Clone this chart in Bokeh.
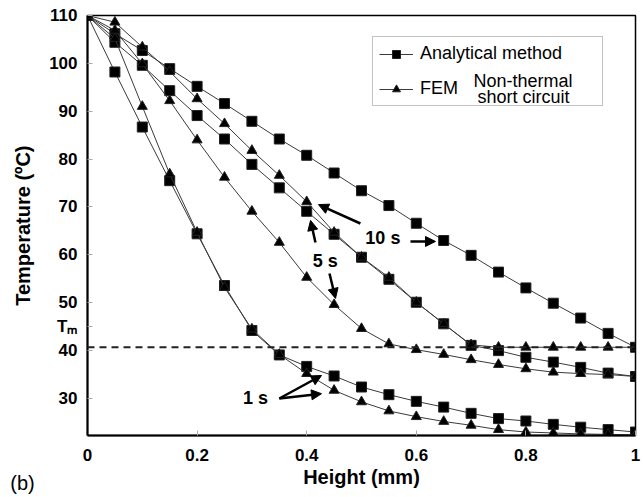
import math
from bokeh.plotting import figure
from bokeh.models import (Range1d, FixedTicker, Span, Label, Arrow, NormalHead,
                          Legend, LegendItem)
from bokeh.embed import file_html
from bokeh.resources import INLINE

# ---------------- data ----------------
height_mm = [0.0, 0.05, 0.1, 0.15, 0.2, 0.25, 0.3, 0.35, 0.4, 0.45, 0.5,
             0.55, 0.6, 0.65, 0.7, 0.75, 0.8, 0.85, 0.9, 0.95, 1.0]

analytical_1s = [110, 98.2, 86.7, 75.5, 64.4, 53.6, 44.2, 39.1, 36.7, 34.7, 32.4,
                 30.8, 29.4, 28.2, 26.9, 25.8, 25.3, 24.6, 24.0, 23.5, 23.0]
fem_1s = [110, 105.2, 91.0, 76.9, 64.7, 53.2, 44.5, 39.2, 35.2, 31.7, 29.3,
          27.4, 26.2, 25.2, 24.4, 23.5, 23.0, 22.8, 22.6, 22.5, 22.4]

analytical_5s = [110, 104.4, 99.6, 94.3, 89.1, 84.2, 78.9, 74.0, 69.1, 64.3, 59.5,
                 54.9, 50.1, 45.6, 41.1, 40.0, 38.6, 37.6, 36.5, 35.3, 34.6]
fem_5s = [110, 106.9, 99.9, 92.2, 84.0, 76.2, 69.1, 62.6, 55.3, 49.6, 44.6,
          41.4, 40.2, 39.2, 38.1, 37.1, 36.2, 35.5, 35.2, 35.0, 34.6]

analytical_10s = [110, 106.2, 102.7, 98.9, 95.2, 91.6, 87.9, 84.2, 80.8, 77.1, 73.4,
                  70.3, 66.6, 63.0, 59.9, 56.4, 53.1, 49.9, 46.8, 43.6, 40.7]
fem_10s = [110, 108.6, 103.4, 98.3, 92.6, 87.4, 81.8, 76.6, 71.1, 64.7, 59.5,
           55.3, 50.1, 45.6, 41.2, 40.7, 40.7, 40.7, 40.7, 40.7, 40.7]

melting_temp = 40.7

x_ticks = [0, 0.2, 0.4, 0.6, 0.8, 1.0]
x_tick_labels = ["0", "0.2", "0.4", "0.6", "0.8", "1"]
y_ticks = [30, 40, 45, 50, 60, 70, 80, 90, 100, 110]
y_tick_labels = ["30", "40", "Tₘ", "50", "60", "70", "80", "90", "100", "110"]

FONT = "Liberation Sans"

# ---------------- figure ----------------
p = figure(width=643, height=497, output_backend="svg", toolbar_location=None,
           x_range=Range1d(0, 1.0), y_range=Range1d(22.27, 110),
           min_border_left=87, min_border_right=8, min_border_top=15,
           min_border_bottom=62)
p.background_fill_color = "white"
p.border_fill_color = "white"
p.outline_line_color = "black"
p.outline_line_width = 1.5
p.xgrid.visible = False
p.ygrid.visible = False

for ax in (p.xaxis[0], p.yaxis[0]):
    ax.axis_line_color = "black"
    ax.axis_line_width = 2
    ax.major_tick_in = 5
    ax.major_tick_out = 0
    ax.major_tick_line_color = "#aaaaaa"
    ax.minor_tick_line_color = None
    ax.major_label_text_font = FONT
    ax.major_label_text_font_style = "bold"
    ax.major_label_text_font_size = "17px"
    ax.major_label_text_color = "black"
    ax.axis_label_text_font = FONT
    ax.axis_label_text_font_style = "bold"
    ax.axis_label_text_font_size = "20px"
    ax.axis_label_text_color = "black"

p.xaxis.ticker = FixedTicker(ticks=x_ticks)
p.xaxis.major_label_overrides = {t: s for t, s in zip(x_ticks, x_tick_labels)}
p.yaxis.ticker = FixedTicker(ticks=y_ticks)
p.yaxis.major_label_overrides = {t: s for t, s in zip(y_ticks, y_tick_labels)}
p.xaxis.axis_label = "Height (mm)"
p.xaxis.major_label_standoff = 13
p.xaxis.axis_label_standoff = 2
p.yaxis.major_label_standoff = 10

# Tm dashed line
p.add_layout(Span(location=melting_temp, dimension="width", line_color="#222222",
                  line_width=1.8, line_dash="7 5"))

LINE_C = "#3a3a3a"
items_an = []
items_fem = []
for series in (analytical_1s, analytical_5s, analytical_10s):
    l = p.line(height_mm, series, line_color=LINE_C, line_width=1)
    s = p.scatter(height_mm, series, marker="square", size=10,
                  fill_color="black", line_color="#222222", line_width=1)
    items_an = [l, s]
for series in (fem_1s, fem_5s, fem_10s):
    l = p.line(height_mm, series, line_color=LINE_C, line_width=1)
    s = p.scatter(height_mm, series, marker="triangle", size=10,
                  fill_color="black", line_color="#222222", line_width=1)
    items_fem = [l, s]

legend = Legend(items=[LegendItem(label="Analytical method", renderers=items_an),
                       LegendItem(label="FEM", renderers=items_fem)],
                location=(285, 329), border_line_color="#888888",
                border_line_width=1.5, background_fill_color="white",
                background_fill_alpha=0.0, padding=6, spacing=14,
                glyph_width=34, glyph_height=20, label_height=20,
                label_standoff=7, label_width=176, margin=0,
                label_text_font=FONT, label_text_font_size="18px",
                label_text_color="black")
p.add_layout(legend)

def mklabel(x, y, t, size="18px", style="normal", align="left", angle=0.0):
    return Label(x=x, y=y, text=t, text_font=FONT, text_font_size=size,
                 text_font_style=style, text_align=align,
                 text_baseline="middle", text_color="black", angle=angle)

def txt(*a, **k):
    p.add_layout(mklabel(*a, **k))

txt(0.7044, 96.4, "Non-thermal")
txt(0.7117, 92.9, "short circuit")

# time annotations
txt(0.539, 63.6, "10 s", style="bold", align="center")
txt(0.434, 58.8, "5 s", style="bold", align="center")
txt(0.3066, 30.2, "1 s", style="bold", align="center")

def arrow(x0, y0, x1, y1):
    p.add_layout(Arrow(end=NormalHead(size=10, fill_color="black", line_color="black"),
                       x_start=x0, y_start=y0, x_end=x1, y_end=y1,
                       line_color="black", line_width=2.5))

arrow(0.5894, 62.8, 0.635, 62.8)
arrow(0.498, 66.55, 0.4215, 70.5)
arrow(0.416, 62.6, 0.407, 67.2)
arrow(0.4416, 56.1, 0.4526, 50.9)
arrow(0.350, 30.0, 0.427, 34.8)
arrow(0.350, 30.0, 0.427, 31.0)

# y-axis title and panel tag, placed in the left panel (outside the frame)
p.add_layout(mklabel(-0.1186, 66.1, "Temperature (ºC)", size="20px", style="bold",
                     align="center", angle=math.pi / 2), "left")
p.add_layout(mklabel(-0.1186, 12.45, "(b)", size="20px", align="center"), "left")

open("out.html", "w").write(file_html(p, INLINE))
